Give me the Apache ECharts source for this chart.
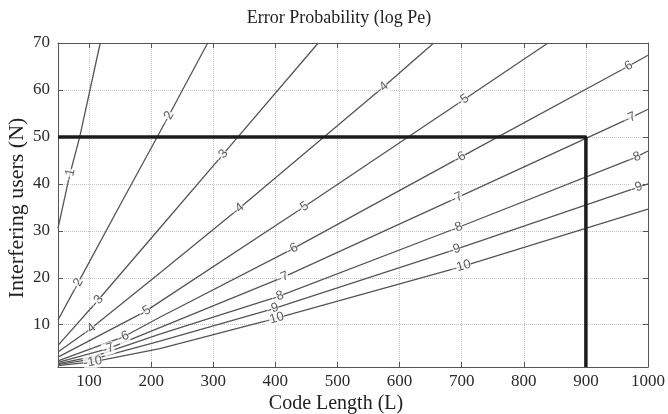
<!DOCTYPE html>
<html>
<head>
<meta charset="utf-8">
<script src="https://cdn.jsdelivr.net/npm/echarts@6/dist/echarts.min.js"></script>
<style>
  html, body { margin: 0; background: #fff; }
  #chart { width: 668px; height: 414px; }
</style>
</head>
<body>
<div id="chart"></div>
<script>
// contour levels of log Pe, each line as [L, N] points
const levels = [-1, -2, -3, -4, -5, -6, -7, -8, -9, -10];
const c1 = [[50, 30.5], [69, 42], [85, 50], [118, 70]];
const c2 = [[50, 11], [81, 18.6], [150, 35.5], [227, 54.2], [291, 70]];
const c3 = [[50, 5.6], [113, 15], [220, 31.5], [314, 46], [469, 70]];
const c4 = [[50, 4.2], [101, 9], [214, 21], [340, 34.6], [572, 60.4], [655, 70]];
const c5 = [[50, 3.1], [190, 12.8], [444, 34.9], [702, 57.8], [839, 70]];
const c6 = [[50, 2.3], [155, 7.4], [214, 11.6], [427, 26.1], [697, 45.6], [966, 64.9], [1000, 67.4]];
const c7 = [[50, 2], [131, 4.9], [214, 9.4], [412, 20.1], [692, 37], [971, 54], [1000, 55.9]];
const c8 = [[50, 1.7], [110, 3.3], [214, 8], [404, 16], [692, 30.6], [979, 45.6], [1000, 47]];
const c9 = [[50, 1.5], [110, 2.8], [214, 6.5], [396, 13.4], [689, 26], [982, 39.2], [1000, 40]];
const c10 = [[50, 1.3], [106, 2.1], [214, 4.9], [399, 11.3], [700, 22.4], [1000, 34.6]];
const contours = [c1, c2, c3, c4, c5, c6, c7, c8, c9, c10];

// which points of each line carry its inline label
const labelIdx = [[1], [1, 3], [1, 3], [1, 3, 4], [1, 2, 3], [1, 3, 4, 5], [1, 3, 4, 5], [3, 4, 5], [3, 4, 5], [1, 3, 4]];

// the thick operating-point box: N = 50, L = 900
const box = [[50, 50], [900, 50], [900, 1]];

const serif = 'Liberation Serif';
const axisColor = '#555';

const chart = echarts.init(document.getElementById('chart'));

function axisBase(pos, min, max, split, labels) {
    return {
        type: 'value',
        position: pos,
        min: min,
        max: max,
        splitNumber: split,
        axisLine: { show: true, lineStyle: { color: axisColor, width: 1 } },
        axisTick: { show: true, inside: true, length: 5, lineStyle: { color: axisColor } },
        axisLabel: {
            show: labels,
            showMinLabel: false,
            formatter: v => String(v),
            fontFamily: serif,
            fontSize: 17,
            color: '#2a2a2a',
            margin: pos === 'left' ? 8 : 6
        },
        splitLine: { show: labels, lineStyle: { type: 'dotted', color: '#c4c4c4', width: 1 } }
    };
}

chart.setOption({
    animation: false,
    title: {
        text: 'Error Probability (log Pe)',
        left: 334,
        top: 4,
        textAlign: 'center',
        textStyle: { fontFamily: serif, fontWeight: 'normal', fontSize: 18, color: '#222' }
    },
    grid: { left: 58, right: 20, top: 43, bottom: 47 },
    xAxis: [axisBase('bottom', 50, 1000, 10, true), axisBase('top', 50, 1000, 10, false)],
    yAxis: [axisBase('left', 1, 70, 7, true), axisBase('right', 1, 70, 7, false)],
    graphic: [
        {
            type: 'text', x: 336, y: 404,
            style: { text: 'Code Length (L)', font: '20px "Liberation Serif"', fill: '#222', textAlign: 'center', textVerticalAlign: 'middle' }
        },
        {
            type: 'text', x: 17, y: 208, rotation: Math.PI / 2,
            style: { text: 'Interfering users (N)', font: '22px "Liberation Serif"', fill: '#222', textAlign: 'center', textVerticalAlign: 'middle' }
        }
    ],
    series: contours.map((pts, i) => ({
        name: String(levels[i]),
        type: 'line',
        data: pts,
        symbol: 'none',
        silent: true,
        z: 2,
        lineStyle: { color: '#555', width: 1.3 }
    })).concat([
        {
            type: 'line',
            data: box,
            symbol: 'none',
            silent: true,
            z: 4,
            lineStyle: { color: '#1c1c1c', width: 3.5 }
        },
        {
            id: 'labels',
            type: 'scatter',
            data: [],
            symbolSize: 1,
            silent: true,
            z: 5,
            itemStyle: { color: 'rgba(0,0,0,0)' },
            label: {
                show: true,
                position: 'inside',
                formatter: '{b}',
                fontFamily: 'Liberation Sans',
                fontSize: 13,
                color: '#333',
                backgroundColor: '#fff',
                padding: [0, 0]
            }
        }
    ])
});

// rotate each inline label to follow its line on screen
const items = [];
contours.forEach((pts, i) => {
    labelIdx[i].forEach(k => {
        const a = chart.convertToPixel({ gridIndex: 0 }, pts[k - 1] || pts[k]);
        const b = chart.convertToPixel({ gridIndex: 0 }, pts[k + 1] || pts[k]);
        const ang = -Math.atan2(b[1] - a[1], b[0] - a[0]) * 180 / Math.PI;
        items.push({ name: String(levels[i]), value: pts[k], label: { rotate: ang } });
    });
});
chart.setOption({ series: [{ id: 'labels', data: items }] });
</script>
</body>
</html>
